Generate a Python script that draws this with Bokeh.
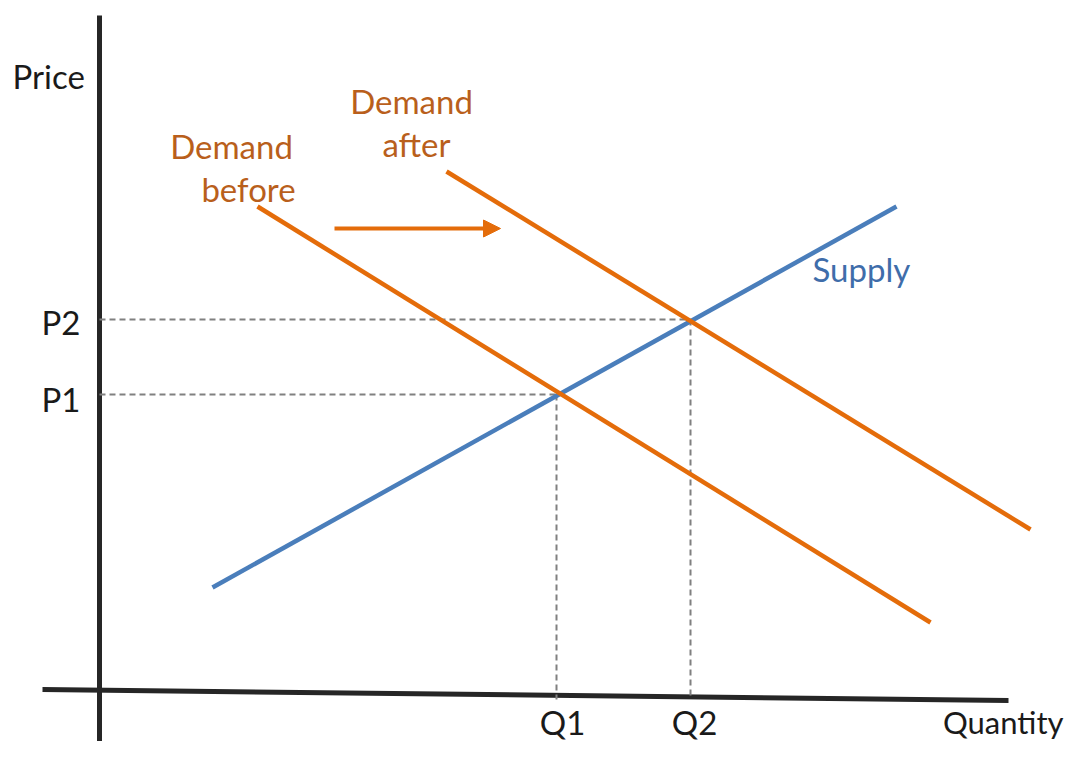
from bokeh.plotting import figure
from bokeh.models import Range1d, Arrow, NormalHead
from bokeh.core.properties import value
from bokeh.embed import file_html
from bokeh.resources import INLINE

# Data (quantity, price units)
demand_before_q = [158, 831]
demand_before_p = [485, 69]
demand_after_q = [347, 931]
demand_after_p = [520, 162]
supply_q = [113, 797]
supply_p = [104, 485]
eq_q = [457, 591]      # Q1, Q2
eq_p = [297, 372]      # P1, P2
eq_labels_q = ["Q1", "Q2"]
eq_labels_p = ["P1", "P2"]
axis_y_q = [0, 0]
axis_y_p = [676, -64]
axis_x_q = [-57, 909]
axis_x_p = [2, -9]
shift_q = [235, 401]
shift_p = [463, 463]

ORANGE = "#E46C0A"
ORANGE_TXT = "#B95F1C"
BLUE = "#4A7EBB"
BLUE_TXT = "#3F6DAA"
FONT = value("Lato")

p = figure(width=1065, height=741, output_backend="svg", toolbar_location=None,
           x_range=Range1d(-99, 966), y_range=Range1d(-50, 691),
           min_border=0)
p.axis.visible = False
p.grid.visible = False
p.outline_line_color = None
p.background_fill_color = "white"

# axes
p.line(axis_y_q, axis_y_p, line_color="#262626", line_width=5)
p.line(axis_x_q, axis_x_p, line_color="#262626", line_width=5)

# dashed guides
for q, pr in zip(eq_q, eq_p):
    p.line([0, q], [pr, pr], line_color="#808080", line_width=2, line_dash="6 4")
    p.line([q, q], [pr, -8], line_color="#808080", line_width=2, line_dash="6 4")

# curves
p.line(supply_q, supply_p, line_color=BLUE, line_width=4.5)
p.line(demand_before_q, demand_before_p, line_color=ORANGE, line_width=4.5)
p.line(demand_after_q, demand_after_p, line_color=ORANGE, line_width=4.5)

# shift arrow
p.add_layout(Arrow(end=NormalHead(size=17, fill_color=ORANGE, line_color=ORANGE),
                   x_start=shift_q[0], y_start=shift_p[0], x_end=shift_q[1], y_end=shift_p[1],
                   line_color=ORANGE, line_width=4))

fs = "33px"
# axis titles
p.text(x=[-87], y=[616], text=["Price"], text_font=FONT, text_font_size=fs,
       text_color="#1a1a1a", text_baseline="middle", text_align="left")
p.text(x=[964], y=[-30], text=["Quantity"], text_font=FONT, text_font_size="31px",
       text_color="#1a1a1a", text_baseline="middle", text_align="right")
# P / Q labels
p.text(x=[-19, -19], y=[eq_p[0] - 4, eq_p[1] - 2], text=eq_labels_p, text_font=FONT,
       text_font_size=fs, text_color="#1a1a1a", text_baseline="middle", text_align="right")
p.text(x=[eq_q[0] + 6, eq_q[1] + 4], y=[-30, -30], text=eq_labels_q, text_font=FONT,
       text_font_size=fs, text_color="#1a1a1a", text_baseline="middle", text_align="center")
# curve labels
p.text(x=[132, 149], y=[546, 503], text=["Demand", "before"], text_font=FONT,
       text_font_size=fs, text_color=ORANGE_TXT, text_baseline="middle", text_align="center")
p.text(x=[312, 317], y=[591, 548], text=["Demand", "after"], text_font=FONT,
       text_font_size=fs, text_color=ORANGE_TXT, text_baseline="middle", text_align="center")
p.text(x=[713], y=[423], text=["Supply"], text_font=FONT,
       text_font_size=fs, text_color=BLUE_TXT, text_baseline="middle", text_align="left")

open("out.html", "w").write(file_html(p, INLINE))
